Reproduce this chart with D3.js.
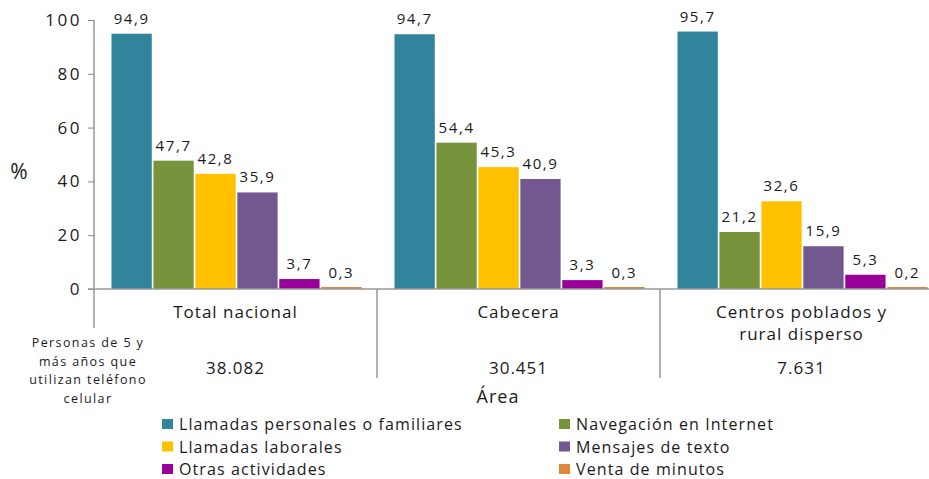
<!DOCTYPE html>
<html><head><meta charset="utf-8">
<script src="https://cdn.jsdelivr.net/npm/d3@7"></script>
<style>
body{margin:0;background:#fff;}
text{font-family:"Open Sans",sans-serif;fill:#1a1a1a;}
</style></head>
<body><svg id="c" width="929" height="479"></svg>
<script>
const categories = ["Total nacional", "Cabecera", "Centros poblados y\nrural disperso"];
const personas = ["38.082", "30.451", "7.631"];
const series = ["Llamadas personales o familiares", "Navegación en Internet", "Llamadas laborales", "Mensajes de texto", "Otras actividades", "Venta de minutos"];
const colors = ["#31849B", "#77933C", "#FFC000", "#72588F", "#990099", "#E0873F"];
const values = [
  [94.9, 47.7, 42.8, 35.9, 3.7, 0.3],
  [94.7, 54.4, 45.3, 40.9, 3.3, 0.3],
  [95.7, 21.2, 32.6, 15.9, 5.3, 0.2]
];
const yTicks = [0, 20, 40, 60, 80, 100];

const svg = d3.select("#c");
const x0 = d3.scaleBand().domain(categories).range([94, 943]).padding(0);
const x1 = d3.scaleBand().domain(series).range([17.5, 267.5]).paddingInner(0.04);
const y = d3.scaleLinear().domain([0, 100]).range([289, 20]);
const fmt = v => String(v).replace(".", ",");

// y axis
const ya = svg.append("g").attr("transform", `translate(${x0.range()[0]},0)`)
  .call(d3.axisLeft(y).tickValues(yTicks).tickSize(6).tickPadding(8).tickSizeOuter(0));
ya.select(".domain").remove();
ya.selectAll(".tick line").attr("stroke", "#888");
ya.selectAll(".tick text").style("font-size", "17px").style("letter-spacing", "2.5px").attr("dx", "2px").attr("fill", "#1a1a1a");
svg.append("line").attr("x1", x0.range()[0]).attr("x2", x0.range()[0]).attr("y1", y(100)).attr("y2", y(0) + 39).attr("stroke", "#888").attr("stroke-width", 1.3);

// bars
const g = svg.selectAll("g.grp").data(categories).join("g").attr("class", "grp")
  .attr("transform", d => `translate(${x0(d)},0)`);
g.selectAll("rect").data((d, i) => values[i].map((v, j) => ({s: series[j], v, c: colors[j]})))
  .join("rect")
  .attr("x", d => x1(d.s)).attr("width", x1.bandwidth())
  .attr("y", d => Math.min(y(d.v), y(0) - 2)).attr("height", d => Math.max(2, y(0) - y(d.v)))
  .attr("fill", d => d.c);
g.selectAll("text.lab").data((d, i) => values[i].map((v, j) => ({s: series[j], v})))
  .join("text").attr("class", "lab")
  .attr("x", d => x1(d.s) + x1.bandwidth() / 2).attr("y", d => y(d.v) - 10)
  .attr("text-anchor", "middle").style("font-size", "15px").style("letter-spacing", "1.6px")
  .text(d => fmt(d.v));

// x axis line
svg.append("line").attr("x1", x0.range()[0] - 6).attr("x2", 929).attr("y1", y(0)).attr("y2", y(0)).attr("stroke", "#999").attr("stroke-width", 1.5);
// separators
categories.slice(1).forEach(c => {
  svg.append("line").attr("x1", x0(c)).attr("x2", x0(c)).attr("y1", y(0)).attr("y2", y(0) + 89).attr("stroke", "#888").attr("stroke-width", 1.3);
});

// category labels
categories.forEach((c, i) => {
  const lines = c.split("\n");
  const cx = x0(c) + x0.bandwidth() / 2;
  const t = svg.append("text").attr("text-anchor", "middle").style("font-size", "17px").style("letter-spacing", "1px")
    .attr("x", cx).attr("y", 318);
  lines.forEach((l, k) => t.append("tspan").attr("x", cx).attr("dy", k ? 22 : 0).text(l));
  svg.append("text").attr("text-anchor", "middle").style("font-size", "17px").style("letter-spacing", "1px")
    .attr("x", cx).attr("y", 374).text(personas[i]);
});

// left side label
const leftLines = ["Personas de 5 y", "más años que", "utilizan teléfono", "celular"];
const lt = svg.append("text").attr("text-anchor", "middle").style("font-size", "12.5px").style("letter-spacing", "1.4px");
leftLines.forEach((l, k) => lt.append("tspan").attr("x", 88).attr("y", 347 + k * 18.5).text(l));

// axis titles
svg.append("text").attr("x", 19).attr("y", 179).attr("text-anchor", "middle").style("font-size", "21px").text("%");
svg.append("text").attr("x", 498).attr("y", 403).attr("text-anchor", "middle").style("font-size", "18px").style("letter-spacing", "1px").text("Área");

// legend
const leg = svg.append("g");
series.forEach((s, i) => {
  const col = i % 2, row = Math.floor(i / 2);
  const lx = col ? 559 : 162, ly = 424 + row * 22.5;
  leg.append("rect").attr("x", lx).attr("y", ly - 5).attr("width", 11).attr("height", 10).attr("fill", colors[i]);
  leg.append("text").attr("x", lx + 17).attr("y", ly + 6).style("font-size", "16px").style("letter-spacing", "1.1px").text(s);
});
</script></body></html>
